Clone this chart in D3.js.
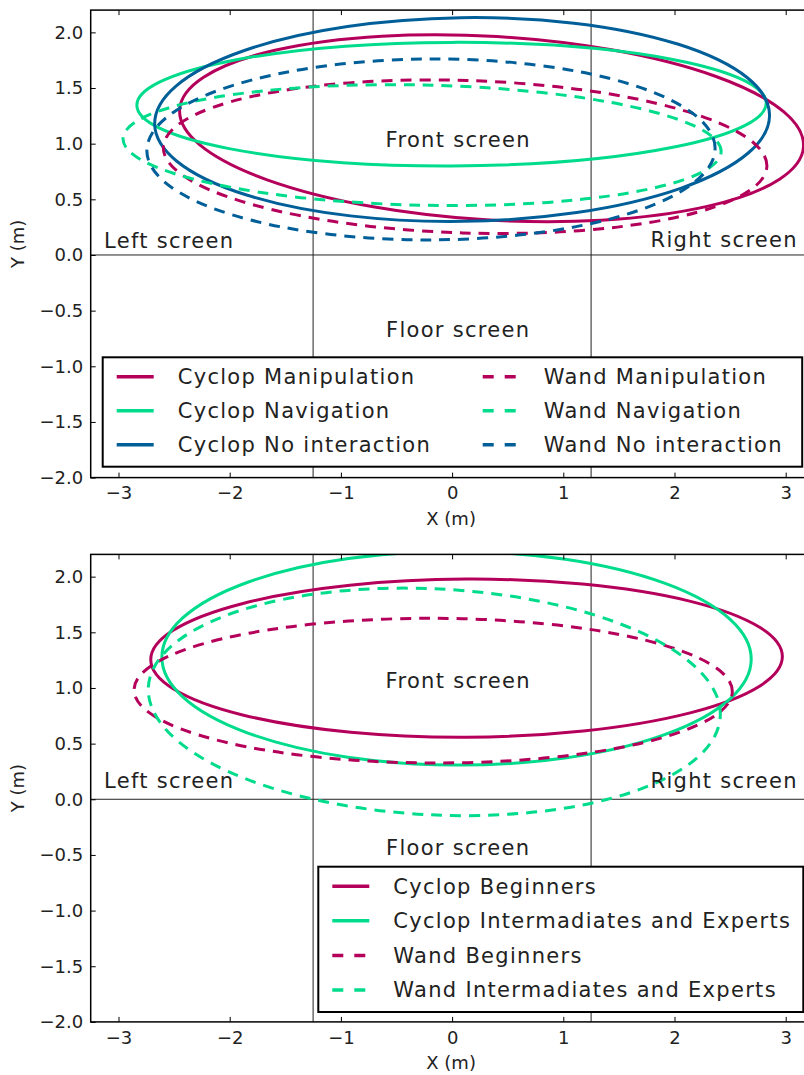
<!DOCTYPE html>
<html>
<head>
<meta charset="utf-8">
<script src="https://cdn.jsdelivr.net/npm/d3@7"></script>
<style>
  body { margin: 0; background: #fff; }
  text { font-family: "DejaVu Sans", sans-serif; fill: #222; }
</style>
</head>
<body>
<svg id="chart" width="804" height="1075"></svg>
<script>
// tick labels
const xTicks = [-3, -2, -1, 0, 1, 2, 3];
const yTicks = [-2.0, -1.5, -1.0, -0.5, 0.0, 0.5, 1.0, 1.5, 2.0];

// screen borders (m)
const screenX = [-1.25, 1.25];
const screenY = [0];

// top panel: interaction conditions (ellipse centre, width, height, angle in deg)
const topLabels = ['Cyclop Manipulation', 'Cyclop Navigation', 'Cyclop No interaction',
                   'Wand Manipulation', 'Wand Navigation', 'Wand No interaction'];
const topCx = [0.355, -0.005, 0.09, 0.117, -0.27, -0.19];
const topCy = [1.139, 1.355, 1.217, 0.883, 0.987, 0.948];
const topWidth = [5.62, 5.66, 5.53, 5.43, 5.38, 5.11];
const topHeight = [1.65, 1.11, 1.83, 1.37, 1.08, 1.625];
const topAngle = [-3.4, 0.2, 0.85, -1.8, -1.25, 0.25];

// bottom panel: expertise levels
const bottomLabels = ['Cyclop Beginners', 'Cyclop Intermadiates and Experts',
                      'Wand Beginners', 'Wand Intermadiates and Experts'];
const bottomCx = [0.13, 0.04, -0.17, -0.16];
const bottomCy = [1.268, 1.267, 0.976, 0.875];
const bottomWidth = [5.68, 5.30, 5.38, 5.15];
const bottomHeight = [1.42, 1.92, 1.30, 2.03];
const bottomAngle = [0.3, -0.2, -0.15, -2.9];

// styles
const MAG = '#b5005b', GRN = '#00dc8c', BLU = '#005f99';
const topColors = [MAG, GRN, BLU, MAG, GRN, BLU];
const topDashed = [false, false, false, true, true, true];
const bottomColors = [MAG, GRN, MAG, GRN];
const bottomDashed = [false, false, true, true];
const DASH = '11,8';
const SPACING = '1.3px';

const svg = d3.select('#chart');

function drawPanel(opts) {
  const x = d3.scaleLinear().domain([-3.25, 3.25]).range([90.7, 813.5]);
  const y = d3.scaleLinear().domain([-2, 2.2]).range([opts.bottom, opts.bottom - 467.5]);
  const [x0, x1] = x.range();
  const [y0, y1] = y.range();

  const g = svg.append('g');
  const clipId = 'clip' + opts.id;
  g.append('clipPath').attr('id', clipId)
    .append('rect').attr('x', x0).attr('y', y1).attr('width', x1 - x0).attr('height', y0 - y1);

  const plot = g.append('g').attr('clip-path', `url(#${clipId})`);

  // screen borders
  plot.selectAll('.vline').data(screenX).enter().append('line')
    .attr('x1', d => x(d)).attr('x2', d => x(d))
    .attr('y1', y1).attr('y2', y0)
    .attr('stroke', '#222').attr('stroke-width', 1);
  plot.selectAll('.hline').data(screenY).enter().append('line')
    .attr('x1', x0).attr('x2', x1)
    .attr('y1', d => y(d)).attr('y2', d => y(d))
    .attr('stroke', '#222').attr('stroke-width', 1);

  // ellipses
  const rows = opts.labels.map((label, i) => ({
    label, cx: opts.cx[i], cy: opts.cy[i], w: opts.w[i], h: opts.h[i], a: opts.a[i],
    color: opts.colors[i], dashed: opts.dashed[i]
  }));

  const ellipsePath = d => {
    const t = d.a * Math.PI / 180;
    const rx = x(d.w / 2) - x(0);
    const ry = y(0) - y(d.h / 2);
    const px = s => x(d.cx + s * d.w / 2 * Math.cos(t));
    const py = s => y(d.cy + s * d.w / 2 * Math.sin(t));
    return `M${px(1)},${py(1)}A${rx},${ry} ${-d.a} 0 0 ${px(-1)},${py(-1)}` +
           `A${rx},${ry} ${-d.a} 0 0 ${px(1)},${py(1)}Z`;
  };

  plot.selectAll('path.ell').data(rows).enter().append('path')
    .attr('class', 'ell')
    .attr('d', ellipsePath)
    .attr('fill', 'none')
    .attr('stroke', d => d.color)
    .attr('stroke-width', 3)
    .attr('stroke-dasharray', d => d.dashed ? DASH : null);

  // screen names
  opts.names.forEach(n => {
    g.append('text')
      .attr('x', x(n.x)).attr('y', y(n.y))
      .attr('text-anchor', n.anchor)
      .style('font-size', '21px').style('letter-spacing', SPACING)
      .text(n.text);
  });

  // axes (ticks inward on all sides)
  const fmtY = d3.format('.1f');
  g.append('g').attr('transform', `translate(0,${y0})`)
    .call(d3.axisBottom(x).tickValues(xTicks).tickSize(-5).tickPadding(9).tickFormat(d3.format('d')));
  g.append('g').attr('transform', `translate(0,${y1})`)
    .call(d3.axisTop(x).tickValues(xTicks).tickSize(-5).tickFormat(''));
  g.append('g').attr('transform', `translate(${x0},0)`)
    .call(d3.axisLeft(y).tickValues(yTicks).tickSize(-5).tickPadding(7.5).tickFormat(fmtY));
  g.append('g').attr('transform', `translate(${x1},0)`)
    .call(d3.axisRight(y).tickValues(yTicks).tickSize(-5).tickFormat(''));

  g.selectAll('.domain').remove();
  g.selectAll('.tick line').attr('stroke', '#000').attr('stroke-width', 1);
  g.selectAll('.tick text').attr('font-family', 'DejaVu Sans').attr('font-size', 18).attr('fill', '#222');

  g.append('rect')
    .attr('x', x0).attr('y', y1).attr('width', x1 - x0).attr('height', y0 - y1)
    .attr('fill', 'none').attr('stroke', '#000').attr('stroke-width', 1.5);

  // axis titles
  g.append('text')
    .attr('x', (x0 + x1) / 2 - 1).attr('y', y0 + 47)
    .attr('text-anchor', 'middle').style('font-size', '18px')
    .text('X (m)');
  g.append('text')
    .attr('transform', `translate(24,${(y0 + y1) / 2}) rotate(-90)`)
    .attr('text-anchor', 'middle').style('font-size', '18px')
    .text('Y (m)');

  // legend
  const L = opts.legend;
  const lg = g.append('g');
  lg.append('rect')
    .attr('x', L.x).attr('y', L.y).attr('width', L.w).attr('height', L.h)
    .attr('fill', '#fff').attr('stroke', '#000').attr('stroke-width', 2);
  const item = lg.selectAll('g.item').data(rows).enter().append('g')
    .attr('class', 'item')
    .attr('transform', (d, i) => {
      const col = Math.floor(i / L.nrows), row = i % L.nrows;
      return `translate(${L.x + 14 + col * L.colW},${L.y + L.row0 + row * L.rowH})`;
    });
  item.append('line')
    .attr('x1', 0).attr('x2', 37).attr('y1', 0).attr('y2', 0)
    .attr('stroke', d => d.color).attr('stroke-width', 3.5)
    .attr('stroke-dasharray', d => d.dashed ? '11,11' : null);
  item.append('text')
    .attr('x', 61).attr('y', 0).attr('dy', '0.35em')
    .style('font-size', '21px').style('letter-spacing', SPACING)
    .text(d => d.label);
}

drawPanel({
  id: 'top', bottom: 477.6,
  labels: topLabels, cx: topCx, cy: topCy, w: topWidth, h: topHeight, a: topAngle,
  colors: topColors, dashed: topDashed,
  names: [
    { text: 'Left screen', x: -3.13, y: 0.06, anchor: 'start' },
    { text: 'Right screen', x: 3.11, y: 0.07, anchor: 'end' },
    { text: 'Front screen', x: 0.055, y: 0.973, anchor: 'middle' },
    { text: 'Floor screen', x: 0.055, y: -0.734, anchor: 'middle' }
  ],
  legend: { x: 102.7, y: 357.3, w: 699.5, h: 109.4, nrows: 3, colW: 366, row0: 19.5, rowH: 34 }
});

drawPanel({
  id: 'bottom', bottom: 1021.9,
  labels: bottomLabels, cx: bottomCx, cy: bottomCy, w: bottomWidth, h: bottomHeight, a: bottomAngle,
  colors: bottomColors, dashed: bottomDashed,
  names: [
    { text: 'Left screen', x: -3.13, y: 0.1, anchor: 'start' },
    { text: 'Right screen', x: 3.11, y: 0.1, anchor: 'end' },
    { text: 'Front screen', x: 0.055, y: 1.0, anchor: 'middle' },
    { text: 'Floor screen', x: 0.055, y: -0.5, anchor: 'middle' }
  ],
  legend: { x: 318.3, y: 866.7, w: 485, h: 145.3, nrows: 4, colW: 0, row0: 19.5, rowH: 34.6 }
});
</script>
</body>
</html>
